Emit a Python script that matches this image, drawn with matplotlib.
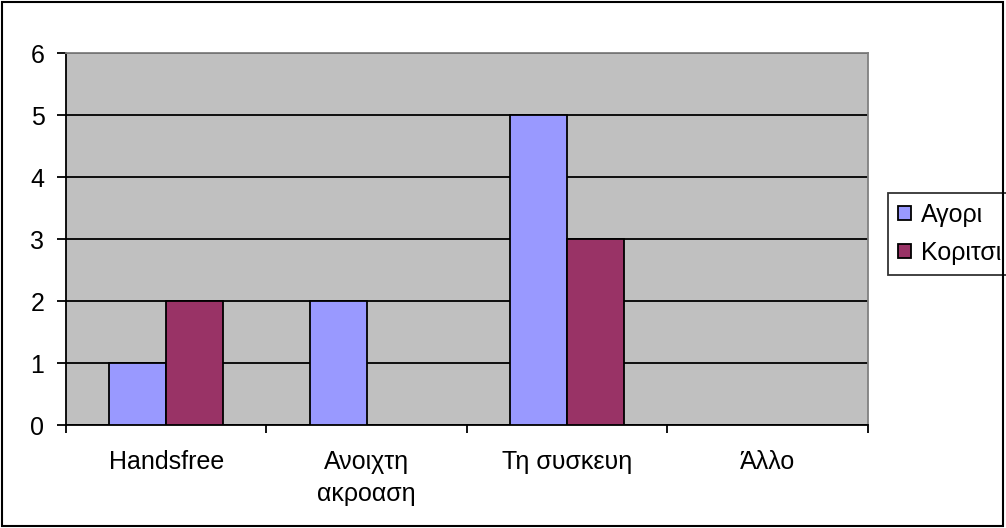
import matplotlib; matplotlib.use("Agg")
import matplotlib.pyplot as plt
import numpy as np
from matplotlib.patches import Rectangle

categories = ["Handsfree", "Ανοιχτη\nακροαση", "Τη συσκευη", "Άλλο"]
boys = [1, 2, 5, 0]
girls = [2, 0, 3, 0]
series_names = ["Αγορι", "Κοριτσι"]

FS = 18
plt.rcParams.update({"font.family": ["Liberation Sans", "DejaVu Sans"]})
fig = plt.figure(figsize=(10.06, 5.28), dpi=100)
ax = fig.add_axes([0.0656, 0.195, 0.797, 0.7045])
ax.set_facecolor("#C0C0C0")

x = np.arange(len(categories))
w = 0.285
ax.bar(x - w/2, boys, w, color="#9999FF", edgecolor="black", linewidth=1.3, label=series_names[0], zorder=3)
ax.bar(x + w/2, girls, w, color="#993366", edgecolor="black", linewidth=1.3, label=series_names[1], zorder=3)

ax.set_xlim(-0.5, len(categories) - 0.5)
ax.set_ylim(0, 6)
ax.set_yticks(range(0, 7))
ax.set_yticklabels([str(v) for v in range(0, 7)], fontsize=FS)
ax.yaxis.grid(True, color="black", linewidth=1.3, zorder=1)
ax.set_axisbelow(True)

ax.set_xticks(np.arange(-0.5, len(categories)))
ax.set_xticklabels([])
ax.set_xticks(x, minor=True)
ax.set_xticklabels(categories, minor=True, linespacing=1.4, fontsize=FS)
ax.tick_params(axis="x", which="minor", length=0, pad=18)
ax.tick_params(axis="x", which="major", direction="out", length=6, width=1.3)
ax.tick_params(axis="y", direction="out", length=6.5, width=1.3, pad=9)

for s in ["top", "right"]:
    ax.spines[s].set_color("#808080")
for s in ["left", "bottom"]:
    ax.spines[s].set_color("black")
for s in ax.spines.values():
    s.set_linewidth(1.3)

leg = ax.legend(loc="upper left", bbox_to_anchor=(1.025, 0.6237), frameon=True, fancybox=False,
                edgecolor="black", handlelength=0.52, handleheight=0.52, handletextpad=0.4,
                borderpad=0.4, labelspacing=0.55, borderaxespad=0, fontsize=FS)
leg.get_frame().set_linewidth(1.3)

fig.patches.append(Rectangle((0.002, 0.003), 0.995, 0.994, transform=fig.transFigure,
                             fill=False, edgecolor="black", linewidth=1.5))
fig.savefig("out.png", dpi=100)
